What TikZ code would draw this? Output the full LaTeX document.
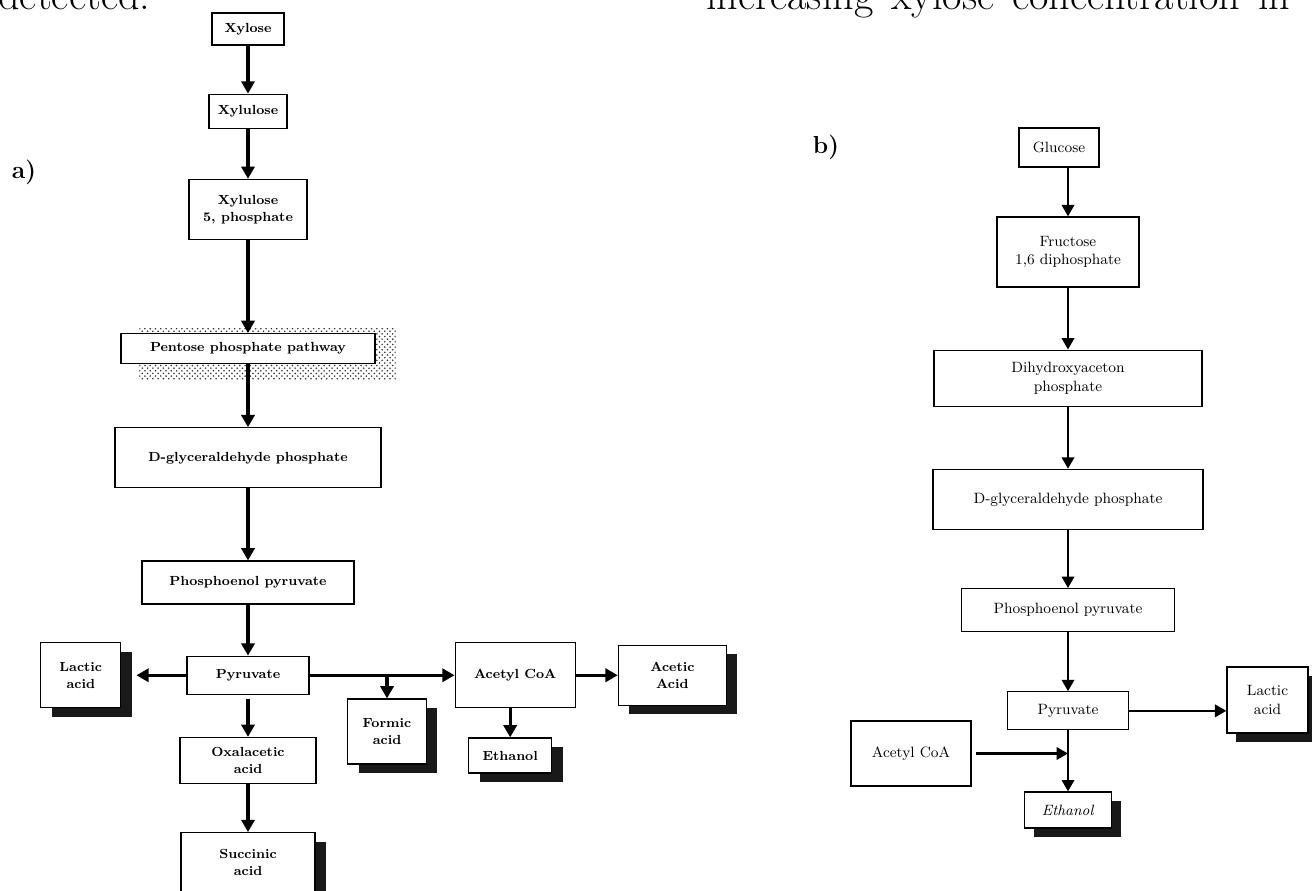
\documentclass[tikz,border=0pt]{standalone}
\usepackage{tikz}
\usetikzlibrary{arrows.meta, positioning, shadows, patterns, backgrounds}

\begin{document}
\begin{tikzpicture}[
    x=0.02cm, y=-0.02cm,
    block/.style={
        rectangle,
        draw,
        fill=white,
        line width=0.7pt,
        align=center,
        inner sep=1pt,
        font=\fontsize{7.5}{9.5}\selectfont\bfseries
    },
    rblock/.style={block, font=\fontsize{8.5}{10.5}\selectfont},
    product/.style={block, general shadow={fill=black!90, shadow xshift=0.22cm, shadow yshift=-0.18cm}},
    rproduct/.style={rblock, general shadow={fill=black!90, shadow xshift=0.18cm, shadow yshift=-0.17cm}},
    pathshade/.style={pattern=crosshatch dots, pattern color=black!80},
    arrow/.style={-{Triangle[length=7pt, width=7.5pt]}, line width=1.8pt},
    rarrow/.style={-{Triangle[length=6.5pt, width=7pt]}, line width=1.4pt},
    panel/.style={font=\fontsize{14}{16}\selectfont\bfseries},
    bodytext/.style={font=\fontsize{24}{28}\selectfont, anchor=base west, inner sep=0pt}
]
\useasboundingbox (0,0) rectangle (1312,890);
\clip (0,0) rectangle (1312,890);

% Page text cut by the figure frame
\node[bodytext] (det) at (-2,9) {detected:};
\node[bodytext] (incr) at (706,9) {\makebox[11.68cm][s]{increasing xylose concentration in}};

% Panel labels
\node[panel] (pa) at (24,172) {a)};
\node[panel] (pb) at (826,147) {b)};

% a) Xylose pathway
\node[block, minimum width=1.44cm, minimum height=0.64cm] (xyl) at (248,29) {Xylose};
\node[block, minimum width=1.56cm, minimum height=0.68cm, below=0.96cm of xyl] (xlu) {Xylulose};
\node[block, minimum width=2.36cm, minimum height=1.2cm, below=1.0cm of xlu] (x5p) {Xylulose\\5, phosphate};
\node[block, minimum width=5.08cm, minimum height=0.6cm, below=1.86cm of x5p] (pent) {Pentose phosphate pathway};
\node[block, minimum width=5.32cm, minimum height=1.2cm, below=1.26cm of pent] (dgly) {D-glyceraldehyde phosphate};
\node[block, minimum width=4.24cm, minimum height=0.86cm, below=1.44cm of dgly] (pep) {Phosphoenol pyruvate};
\node[block, minimum width=2.44cm, minimum height=0.76cm, below=1.02cm of pep] (pyr) {Pyruvate};
\node[block, minimum width=2.72cm, minimum height=0.92cm, below=0.84cm of pyr] (oxa) {Oxalacetic\\acid};
\node[product, minimum width=2.68cm, minimum height=1.2cm, below=0.96cm of oxa] (suc) {Succinic\\acid};

% Side branches of pyruvate
\node[product, minimum width=1.6cm, minimum height=1.3cm, left=1.3cm of pyr] (lac) {Lactic\\acid};
\node[block, minimum width=2.4cm, minimum height=1.3cm, right=2.9cm of pyr] (acoa) {Acetyl CoA};
\node[product, minimum width=1.58cm, minimum height=1.3cm] (form) at (387,731.5) {Formic\\acid};
\node[product, minimum width=1.66cm, minimum height=0.7cm, below=0.58cm of acoa, xshift=-0.1cm] (eth) {Ethanol};
\node[product, minimum width=2.16cm, minimum height=1.2cm, right=0.84cm of acoa] (acet) {Acetic\\Acid};

% Shaded backing of the pathway box
\begin{scope}[on background layer]
\fill[pathshade] ([shift={(19,-5)}]pent.north west) rectangle ([shift={(20,15)}]pent.south east);
\end{scope}

% Arrows a)
\draw[arrow] (xyl) -- (xlu);
\draw[arrow] (xlu) -- (x5p);
\draw[arrow] (x5p) -- (pent);
\draw[arrow] (pent) -- (dgly);
\draw[arrow] (dgly) -- (pep);
\draw[arrow] (pep) -- (pyr);
\draw[arrow] ([yshift=-0.08cm]pyr.south) -- (oxa);
\draw[arrow] (oxa) -- (suc);
\draw[arrow] (pyr.west) -- ([xshift=0.3cm]lac.east);
\draw[arrow] (pyr.east) -- (acoa.west);
\coordinate (fbr) at (form.north |- pyr.east);
\draw[arrow] (fbr) -- (form.north);
\draw[arrow] (eth.north |- acoa.south) -- (eth.north);
\draw[arrow] (acoa) -- (acet);

% b) Glucose pathway
\node[rblock, minimum width=1.6cm, minimum height=0.78cm] (glc) at (1059,147.5) {Glucose};
\node[rblock, minimum width=2.84cm, minimum height=1.4cm] (fru) at (1068,252) {Fructose\\1,6 diphosphate};
\node[rblock, minimum width=5.36cm, minimum height=1.12cm, below=1.24cm of fru] (dhap) {Dihydroxyaceton\\phosphate};
\node[rblock, minimum width=5.4cm, minimum height=1.2cm, below=1.24cm of dhap] (dgly2) {D-glyceraldehyde phosphate};
\node[rblock, minimum width=4.26cm, minimum height=0.86cm, below=1.16cm of dgly2] (pep2) {Phosphoenol pyruvate};
\node[rblock, minimum width=2.42cm, minimum height=0.76cm, below=1.18cm of pep2] (pyr2) {Pyruvate};
\node[rproduct, minimum width=1.74cm, minimum height=0.72cm, below=1.22cm of pyr2] (eth2) {\textit{Ethanol}};
\node[rproduct, minimum width=1.62cm, minimum height=1.32cm] (lac2) at (1267.5,700) {Lactic\\acid};
\node[rblock, minimum width=2.4cm, minimum height=1.3cm] (acoa2) at (911,753.5) {Acetyl CoA};

% Arrows b)
\draw[rarrow] (glc.south -| fru.north) -- (fru.north);
\draw[rarrow] (fru) -- (dhap);
\draw[rarrow] (dhap) -- (dgly2);
\draw[rarrow] (dgly2) -- (pep2);
\draw[rarrow] (pep2) -- (pyr2);
\draw[rarrow] (pyr2) -- (eth2);
\draw[rarrow] (pyr2.east) -- (pyr2.east -| lac2.west);
\coordinate (join) at (acoa2.east -| pyr2.south);
\draw[rarrow] ([xshift=0.08cm]acoa2.east) -- (join);

\end{tikzpicture}
\end{document}
